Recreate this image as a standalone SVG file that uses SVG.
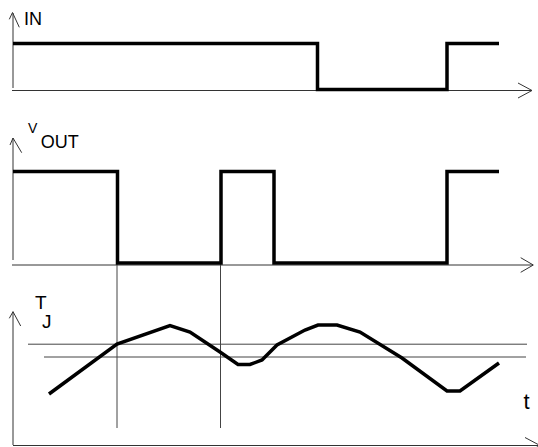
<svg xmlns="http://www.w3.org/2000/svg" width="538" height="447" viewBox="0 0 538 447">
<style>
.ax{fill:none;stroke:#333;stroke-width:1}
.ref{fill:none;stroke:#444;stroke-width:1}
.sig{fill:none;stroke:#000;stroke-width:3.5;stroke-linejoin:miter}
.lbl{font-family:"Liberation Sans",Arial,sans-serif;fill:#000}
</style>
<rect width="538" height="447" fill="#fff"/>
<g id="axes">
<path class="ax" d="M13,13 V88 M9.3,19.3 L12.5,12.5 L19.3,27.3"/>
<path class="ax" d="M12,90.5 H532 M518,83 L532,90.5 L518,98"/>
<path class="ax" d="M13,138 V260 M10,145 L13,138 L21.7,152.7"/>
<path class="ax" d="M12,265 H533 M520.7,257.7 L533.3,265 L520.7,272.3"/>
<path class="ax" d="M13,311.7 V445 M9.3,318.3 L13,311.7 L20.7,326"/>
<path class="ax" d="M13,445.5 H540 M525,437.5 L540,445.5 L525,453.5"/>
</g>
<g id="connectors">
<path class="ref" d="M117,263 V428 M220.5,263 V428"/>
<path class="ref" d="M28,344.2 H527 M44,357 H526"/>
</g>
<g id="in-signal">
<path class="sig" d="M13,43.5 H317.5 V89.5 H447 V43.5 H499"/>
<text class="lbl" x="24" y="25" font-size="18">IN</text>
</g>
<g id="vout-signal">
<path class="sig" d="M13,171.5 H117.5 V263 H221 V171.5 H274 V263 H447 V171.5 H499"/>
<text class="lbl" x="28" y="133" font-size="14">V</text>
<text class="lbl" x="40.8" y="148" font-size="18">OUT</text>
</g>
<g id="tj-curve">
<polyline class="sig" points="49,394 117,344 170,325.5 190,332 220,352 238,364.5 250,364.5 262,360 277,345 305,330 318,325 337,325 360,332 402,358 447,391 460,391 499,363"/>
<text class="lbl" x="35" y="308.5" font-size="19">T</text>
<text class="lbl" x="42" y="327.5" font-size="19">J</text>
<text class="lbl" x="523.5" y="409" font-size="22">t</text>
</g>
</svg>
